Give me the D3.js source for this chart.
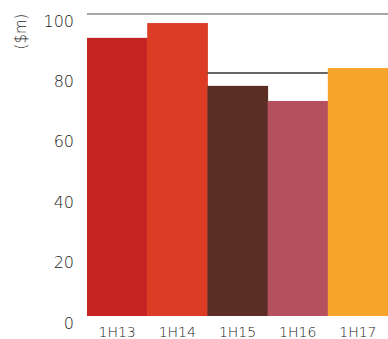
<!DOCTYPE html>
<html>
<head>
<meta charset="utf-8">
<script src="https://cdn.jsdelivr.net/npm/d3@7"></script>
<style>
  html, body { margin: 0; padding: 0; background: #fff; }
  svg { display: block; }
  text { font-family: "DejaVu Sans", sans-serif; font-weight: 200; fill: #1a1a1a; }
</style>
</head>
<body>
<svg id="chart" width="388" height="339"></svg>
<script>
// Half-year results, $m
const periods = ["1H13", "1H14", "1H15", "1H16", "1H17"];
const values = [92.1, 97.0, 76.2, 71.2, 82.1];
const barColors = ["#c62423", "#dc3c23", "#5a2e24", "#b5515e", "#f7a42b"];
const yTicks = [0, 20, 40, 60, 80, 100];

// Horizontal reference lines: value, first and last period spanned, colour
const refValues = [100, 80.5];
const refFrom = ["1H13", "1H15"];
const refTo = ["1H17", "1H16"];
const refColors = ["#8a8a8a", "#333333"];

const svg = d3.select("#chart");
const margin = { top: 14, right: 0, bottom: 23, left: 87 };
const width = 388, height = 339;
const font = "\"DejaVu Sans\", sans-serif";
const textColor = "#1a1a1a";

const x = d3.scaleBand()
  .domain(periods)
  .range([margin.left, width - margin.right])
  .paddingInner(0)
  .paddingOuter(0);

const y = d3.scaleLinear()
  .domain([0, 100])
  .range([height - margin.bottom, margin.top]);

// Bars
svg.append("g")
  .selectAll("rect")
  .data(periods)
  .join("rect")
  .attr("x", d => x(d))
  .attr("width", x.bandwidth() + 0.5)
  .attr("y", (d, i) => y(values[i]))
  .attr("height", (d, i) => y(0) - y(values[i]))
  .attr("fill", (d, i) => barColors[i]);

// Reference lines
svg.append("g")
  .selectAll("line")
  .data(refValues)
  .join("line")
  .attr("x1", (d, i) => x(refFrom[i]))
  .attr("x2", (d, i) => x(refTo[i]) + x.bandwidth())
  .attr("y1", d => y(d))
  .attr("y2", d => y(d))
  .attr("stroke", (d, i) => refColors[i])
  .attr("stroke-width", 1.5);

// Y axis labels (sit just below their value)
const yAxis = d3.axisLeft(y).tickValues(yTicks).tickSize(0).tickPadding(13).tickFormat(d3.format("d"));
const gy = svg.append("g")
  .attr("transform", `translate(${margin.left},0)`)
  .call(yAxis);
gy.select(".domain").remove();
gy.selectAll("text")
  .attr("dy", null)
  .attr("y", 12)
  .style("font-size", "16px")
  .style("font-family", font)
  .style("font-weight", 200)
  .attr("fill", textColor);

// X axis labels
const xAxis = d3.axisBottom(x).tickSize(0);
const gx = svg.append("g")
  .attr("transform", `translate(0,${y(0)})`)
  .call(xAxis);
gx.select(".domain").remove();
gx.selectAll("text")
  .attr("dy", null)
  .attr("y", 20.5)
  .style("font-size", "14px")
  .style("font-family", font)
  .style("font-weight", 200)
  .attr("fill", textColor);

// Unit label
svg.append("text")
  .attr("transform", "translate(26,31.5) rotate(-90)")
  .attr("text-anchor", "middle")
  .style("font-size", "15px")
  .style("font-family", font)
  .text("($m)");
</script>
</body>
</html>
